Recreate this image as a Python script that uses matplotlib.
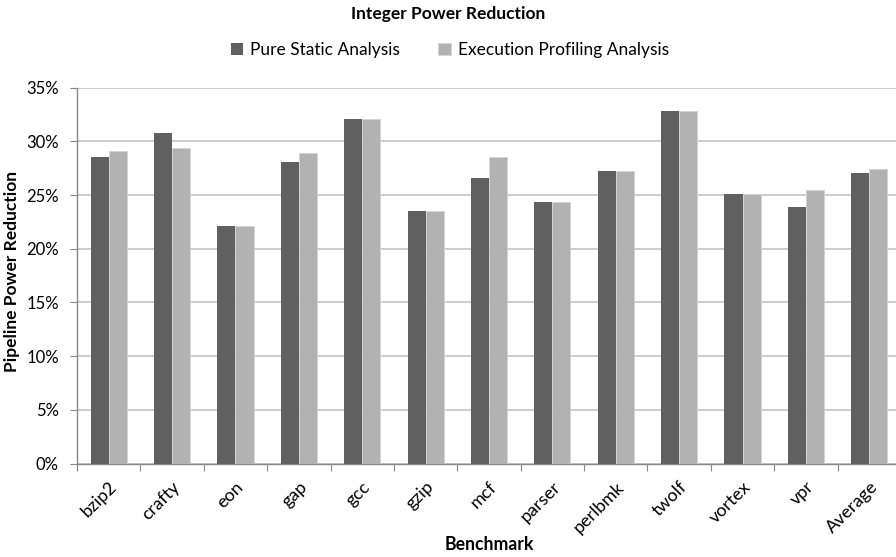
import numpy as np
import matplotlib
matplotlib.use('Agg')
from matplotlib import pyplot as plt
from matplotlib.ticker import PercentFormatter, FixedLocator

# benchmark data (percent power reduction)
benchmarks = ['bzip2', 'crafty', 'eon', 'gap', 'gcc', 'gzip', 'mcf',
              'parser', 'perlbmk', 'twolf', 'vortex', 'vpr', 'Average']
static_vals = [28.5, 30.8, 22.1, 28.1, 32.1, 23.5, 26.6,
               24.4, 27.2, 32.8, 25.1, 23.9, 27.1]
profile_vals = [29.1, 29.4, 22.1, 28.9, 32.1, 23.5, 28.5,
                24.4, 27.2, 32.8, 25.1, 25.5, 27.4]
series_names = ['Pure Static Analysis', 'Execution Profiling Analysis']

plt.rcParams['font.family'] = ['Lato', 'DejaVu Sans']

W, H = 896, 557
fig = plt.figure(figsize=(W / 100, H / 100), dpi=100)
# plot area in pixels: left 77, right ~901 (cropped), top 88, bottom 463.5
left, right, top, bottom = 77, 901, 87.7, 463.5
ax = fig.add_axes([left / W, 1 - bottom / H, (right - left) / W, (bottom - top) / H])

x = np.arange(len(benchmarks))
bw = 0.285
ax.bar(x - bw / 2, static_vals, bw, color='#606060', label=series_names[0], zorder=3)
ax.bar(x + bw / 2, profile_vals, bw, color='#b2b2b2', edgecolor='#d4d4d4',
       linewidth=0.6, label=series_names[1], zorder=3)

ax.set_xlim(-0.5, len(benchmarks) - 0.5)
ax.set_ylim(0, 35)
ax.yaxis.set_major_locator(FixedLocator(np.arange(0, 36, 5)))
ax.yaxis.set_major_formatter(PercentFormatter(decimals=0))
ax.grid(axis='y', color='#c4c4c4', linewidth=1.2, zorder=0)

for s in ['top', 'right']:
    ax.spines[s].set_visible(False)
for s in ['left', 'bottom']:
    ax.spines[s].set_color('#888888')
    ax.spines[s].set_linewidth(1.0)

# category boundary ticks on x axis
ax.set_xticks(np.arange(-0.5, len(benchmarks), 1.0), minor=False)
ax.set_xticklabels([])
ax.tick_params(axis='x', which='major', length=5, color='#888888')
ax.set_xticks(x, minor=True)
ax.set_xticklabels(benchmarks, minor=True, rotation=45, ha='right',
                   rotation_mode='anchor', fontsize=13)
ax.tick_params(axis='x', which='minor', length=0, pad=11)
ax.tick_params(axis='y', length=5, color='#888888', labelsize=12, pad=8)

fig.text(448 / W, 1 - 14 / H, 'Integer Power Reduction', ha='center', va='center',
         fontsize=12.5, fontweight='bold')
fig.text(489 / W, 1 - 545 / H, 'Benchmark', ha='center', va='center',
         fontsize=12.7, fontweight='bold')
fig.text(12 / W, 1 - 272 / H, 'Pipeline Power Reduction', ha='center', va='center',
         rotation=90, fontsize=12.5, fontweight='bold')

fig.legend(loc='center', bbox_to_anchor=(450 / W, 1 - 50 / H), ncol=2, frameon=False,
           fontsize=12.5, handlelength=0.7, handleheight=0.7, columnspacing=2.2,
           handletextpad=0.4)

fig.savefig('out.png', dpi=100)
